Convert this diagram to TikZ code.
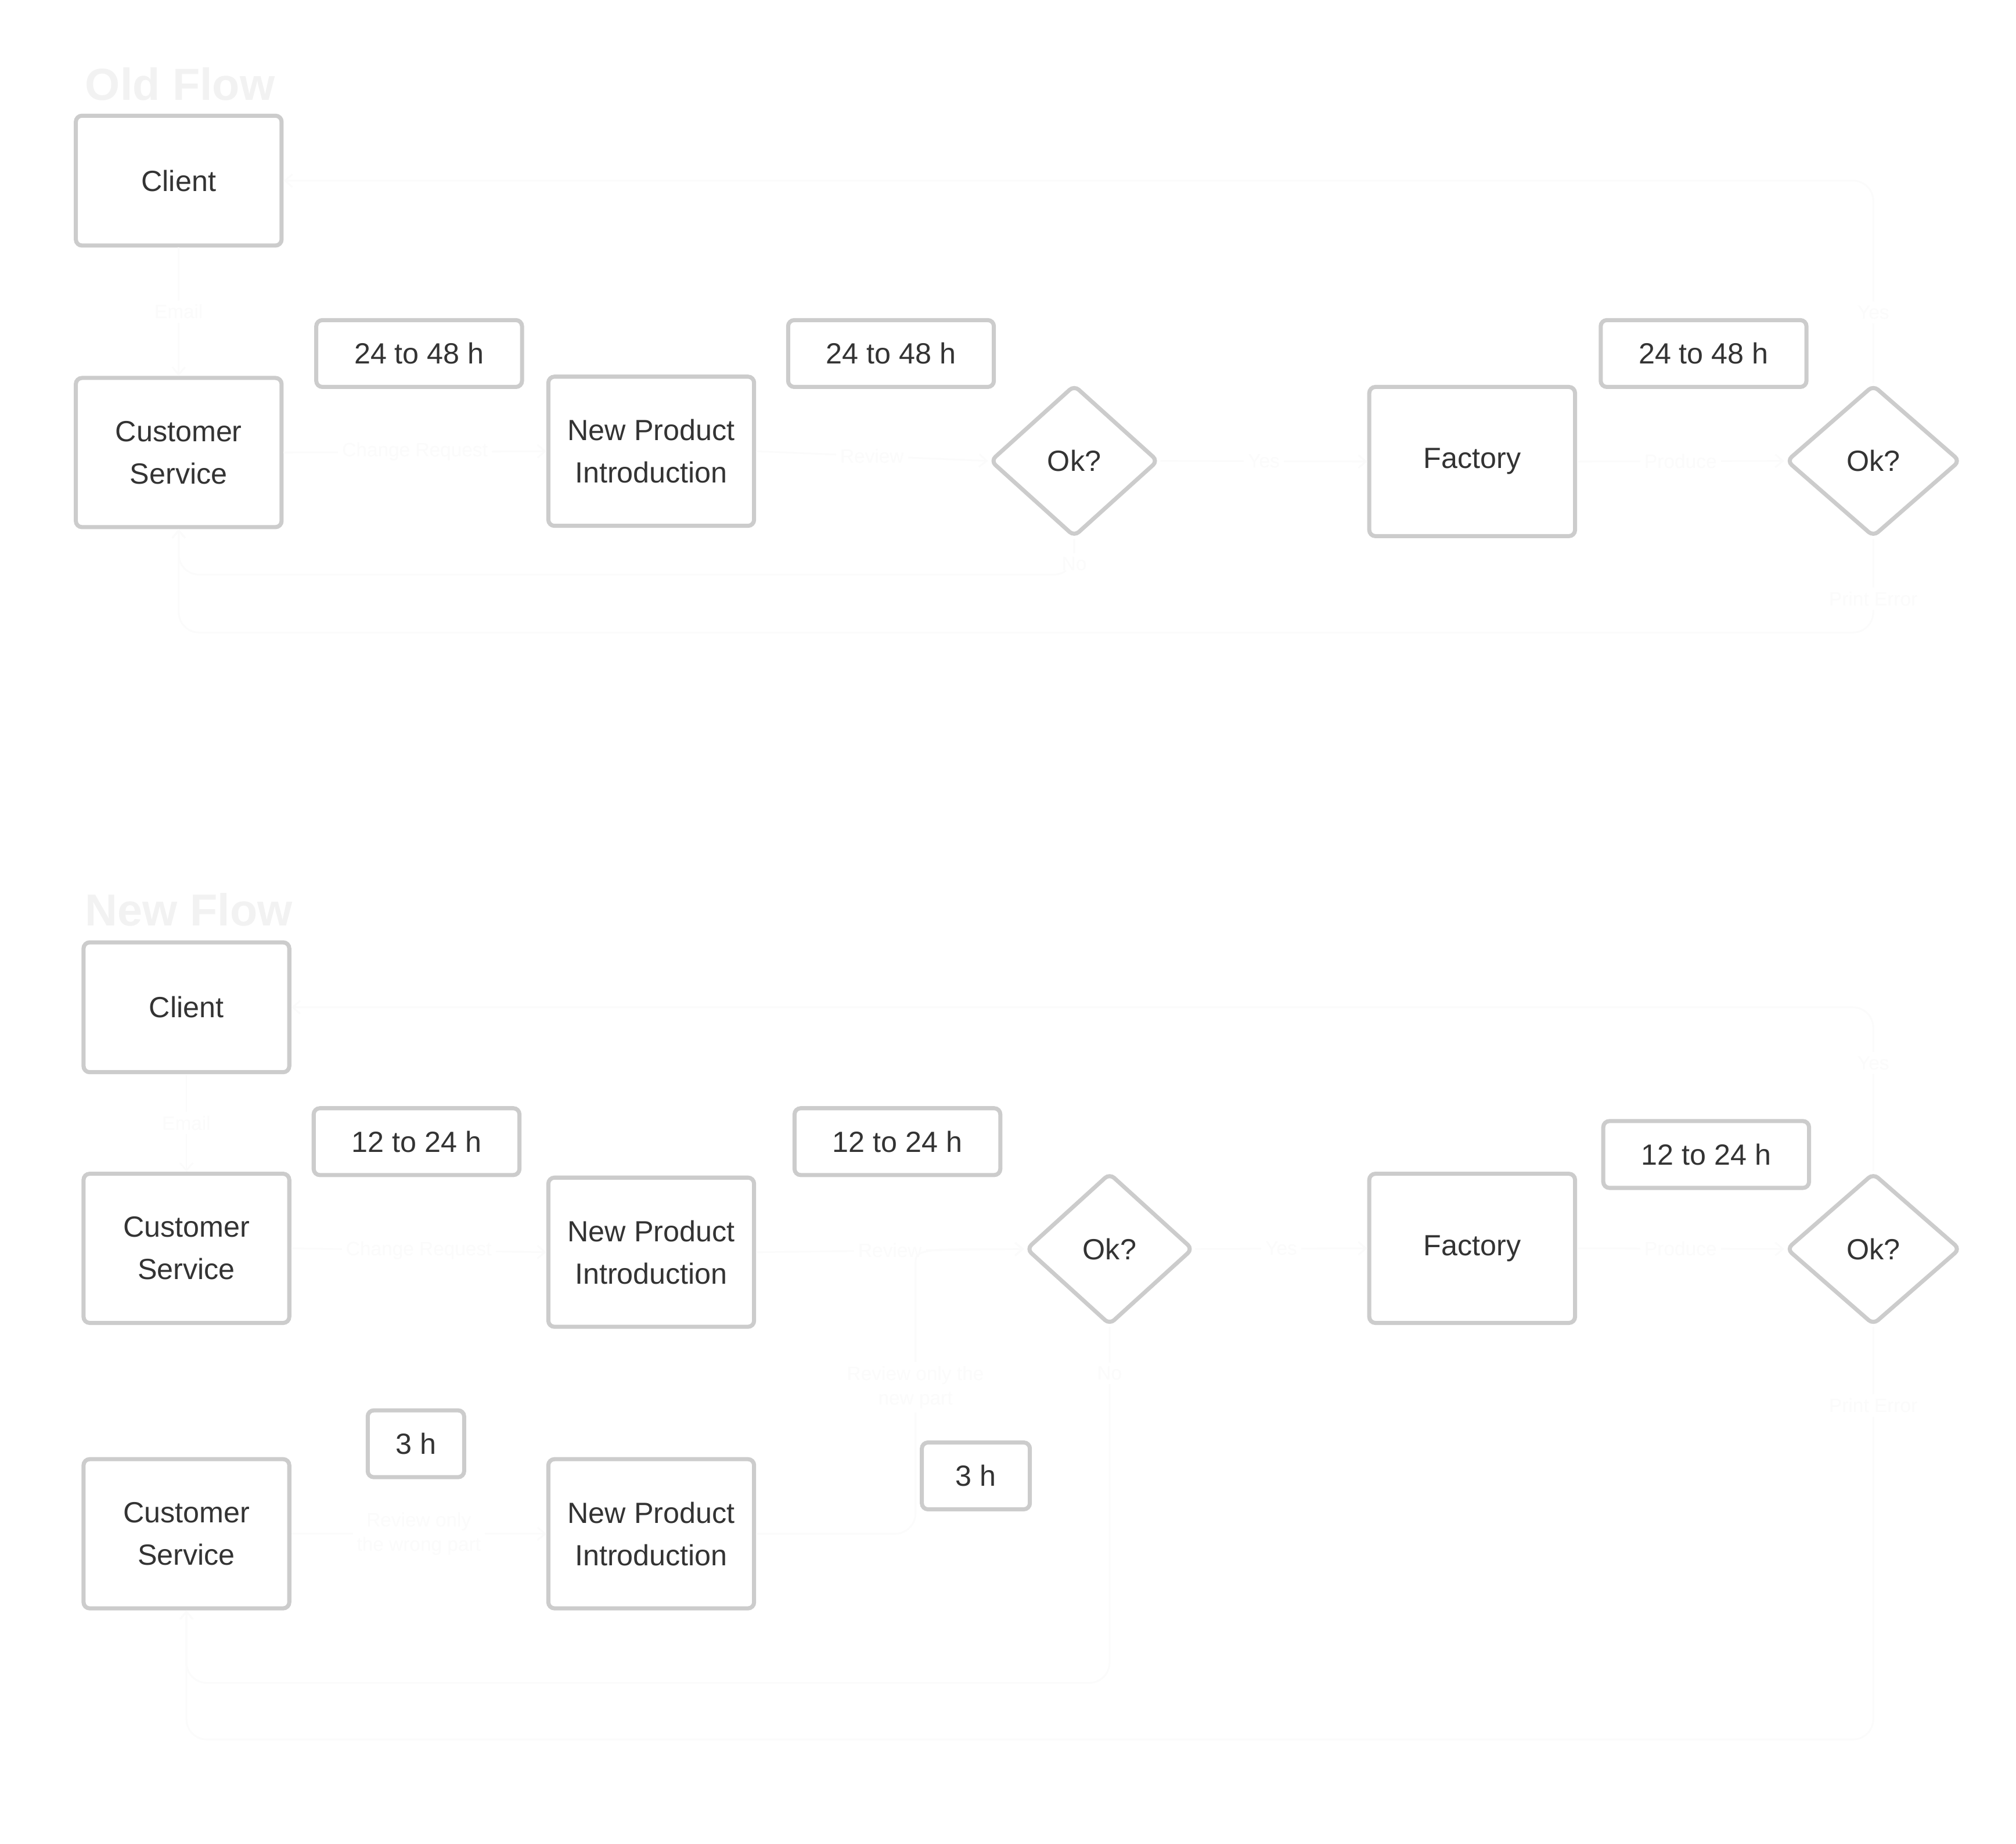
\documentclass[tikz,border=0pt]{standalone}
\usepackage{fontspec}
\setmainfont{Liberation Sans}
\usetikzlibrary{shapes.geometric,arrows.meta,calc}
\definecolor{bord}{HTML}{CCCCCC}
\definecolor{txt}{HTML}{333333}
\definecolor{faint}{HTML}{FBFBFB}
\definecolor{ttl}{HTML}{F2F2F2}
\begin{document}
\begin{tikzpicture}[x=0.0221429cm,y=-0.0221429cm,
  box/.style={draw=bord, line width=2pt, rounded corners=3pt, fill=white, text=txt,
    align=center, minimum width=3.543cm, minimum height=2.569cm, inner sep=0pt,
    font=\fontsize{14.3pt}{20.8pt}\selectfont},
  dia/.style={draw=bord, line width=2pt, diamond, rounded corners=3pt, fill=white, text=txt,
    minimum height=2.62cm, inner sep=0pt, font=\fontsize{14.3pt}{20.8pt}\selectfont},
  tag/.style={box, minimum height=1.151cm},
  edge/.style={draw=faint, line width=0.8pt, -{Straight Barb[length=0.13cm,width=0.22cm]}},
  rc/.style={rounded corners=10pt},
  elab/.style={fill=white, text=faint, align=center, inner sep=2pt,
    font=\fontsize{9.5pt}{12pt}\selectfont},
  ttlst/.style={text=ttl, anchor=base west, inner sep=0pt,
    font=\fontsize{22pt}{26pt}\selectfont\bfseries}]
\fill[white] (0,0) rectangle (1568,1434);
\useasboundingbox (0,0) rectangle (1568,1434);

% ---------- Old flow ----------
\node[ttlst] (ot) at (66,78) {Old Flow};
\node[box, minimum height=2.236cm] (oc) at (139,140.5) {Client};
\node[box] (ocs) at (139,352) {Customer\\Service};
\node[tag] (ot1) at (326,275) {24 to 48 h};
\node[box] (onpi) at (506.5,351) {New Product\\Introduction};
\node[tag] (ot2) at (693,275) {24 to 48 h};
\node[dia, minimum width=2.9cm] (ook1) at (835.5,358.5) {Ok?};
\node[box] (ofac) at (1145,359) {Factory};
\node[tag] (ot3) at (1325,275) {24 to 48 h};
\node[dia, minimum width=3.0cm] (ook2) at (1457,358.5) {Ok?};

\coordinate (ono) at (0,447);
\coordinate (ope) at (0,492);
\draw[edge] (oc.south) -- node[elab]{Email} (ocs.north);
\draw[edge] (ocs.east) -- node[elab]{Change Request} (onpi.west);
\draw[edge] (onpi.east) -- node[elab]{Review} (ook1.west);
\draw[edge] (ook1.east) -- node[elab]{Yes} (ofac.west);
\draw[edge] (ofac.east) -- node[elab]{Produce} (ook2.west);
\draw[edge, rc] (ook2.north) |- node[elab,pos=0.174]{Yes} (oc.east);
\draw[edge, rc] (ook1.south) -- node[elab,pos=0.7]{No} (ook1.south |- ono) -| (ocs.south);
\draw[edge, rc] (ook2.south) -- node[elab,pos=0.64]{Print Error} (ook2.south |- ope) -| (ocs.south);

% ---------- New flow ----------
\node[ttlst] (nt) at (66,720) {New Flow};
\node[box, minimum height=2.236cm] (nc) at (145,783.5) {Client};
\node[box] (ncs) at (145,971) {Customer\\Service};
\node[tag] (nt1) at (324,888) {12 to 24 h};
\node[box] (nnpi) at (506.5,974) {New Product\\Introduction};
\node[tag] (nt2) at (698,888) {12 to 24 h};
\node[dia, minimum width=2.88cm] (nok1) at (863,971.5) {Ok?};
\node[box] (nfac) at (1145,971) {Factory};
\node[tag] (nt3) at (1327,898) {12 to 24 h};
\node[dia, minimum width=3.0cm] (nok2) at (1457,971.5) {Ok?};
\node[tag, minimum width=1.661cm] (nt4) at (323.5,1123) {3 h};
\node[box] (ncs2) at (145,1193) {Customer\\Service};
\node[box] (nnpi2) at (506.5,1193) {New Product\\Introduction};
\node[tag, minimum width=1.86cm] (nt5) at (759,1148) {3 h};

\coordinate (nno) at (0,1309);
\coordinate (npe) at (0,1353);
\coordinate (nrv) at (712,1000);
\draw[edge] (nc.south) -- node[elab]{Email} (ncs.north);
\draw[edge] (ncs.east) -- node[elab]{Change Request} (nnpi.west);
\draw[edge] (nnpi.east) -- node[elab]{Review} (nok1.west);
\draw[edge] (nok1.east) -- node[elab]{Yes} (nfac.west);
\draw[edge] (nfac.east) -- node[elab]{Produce} (nok2.west);
\draw[edge, rc] (nok2.north) |- node[elab,pos=0.33]{Yes} (nc.east);
\draw[edge, rc] (nok1.south) -- node[elab,pos=0.13]{No} (nok1.south |- nno) -| (ncs2.south);
\draw[edge, rc] (nok2.south) -- node[elab,pos=0.19]{Print Error} (nok2.south |- npe) -| (ncs2.south);
\draw[edge] (ncs2.east) -- node[elab]{Review only\\the wrong part} (nnpi2.west);
\draw[edge, rc] (nnpi2.east) -| node[elab,pos=0.795]{Review only the\\new part} (nrv)
  .. controls (nrv |- nok1.west) .. (nok1.west);
\end{tikzpicture}
\end{document}
